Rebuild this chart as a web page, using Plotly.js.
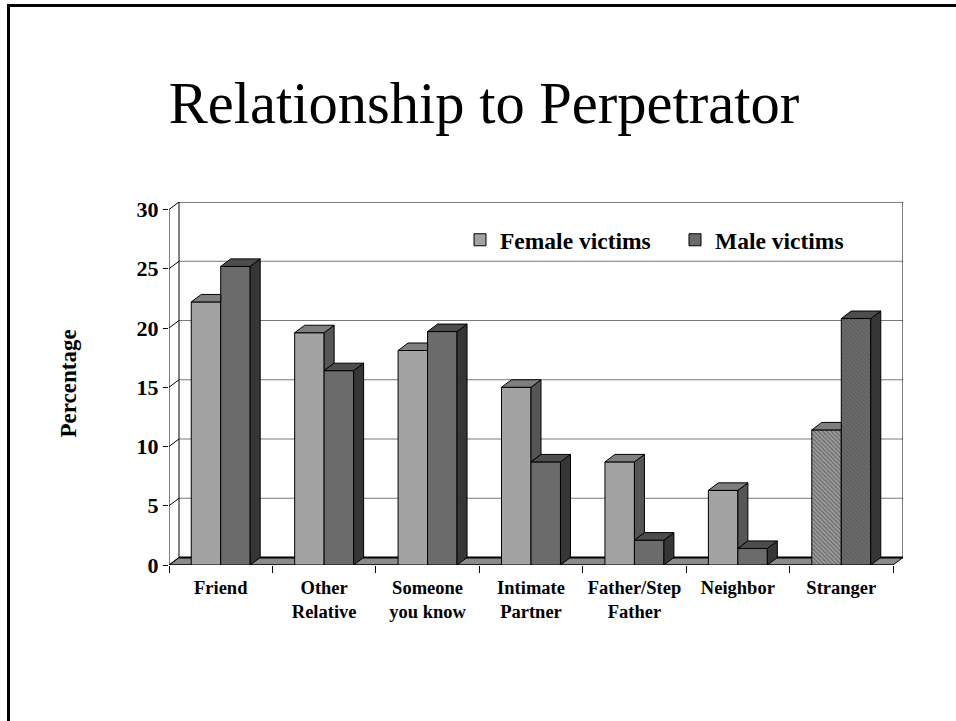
<!DOCTYPE html>
<html>
<head>
<meta charset="utf-8">
<script src="https://cdn.plot.ly/plotly-3.0.1.min.js"></script>
<style>
  html, body { margin: 0; padding: 0; background: #fff; }
  #wrap { position: relative; width: 956px; height: 721px; overflow: hidden; }
  #chart { width: 956px; height: 721px; }
  #frame { position: absolute; left: 7px; top: 4px; width: 960px; height: 730px;
           border-left: 3px solid #000; border-top: 3px solid #000; pointer-events: none; }
</style>
</head>
<body>
<div id="wrap"><div id="chart"></div><div id="frame"></div></div>
<script>
// ---- data ----
const categories = ['Friend', 'Other<br>Relative', 'Someone<br>you know', 'Intimate<br>Partner', 'Father/Step<br>Father', 'Neighbor', 'Stranger'];
const female = [22.2, 19.6, 18.1, 15.0, 8.7, 6.3, 11.4];
const male = [25.2, 16.4, 19.7, 8.7, 2.1, 1.4, 20.8];
const seriesNames = ['Female victims', 'Male victims'];
const yTicks = [0, 5, 10, 15, 20, 25, 30];

// ---- geometry / style constants ----
const W = 956, H = 721;
const margin = {l: 169, r: 53, t: 202, b: 156};
const plotW = W - margin.l - margin.r, plotH = H - margin.t - margin.b;
const n = categories.length;
const depthPx = 10, risePx = 7.5;
const dx = depthPx * n / plotW / (1 - depthPx / plotW);
const yTop = 30;
const dy = risePx * yTop / plotH / (1 - risePx / plotH);
const bw = 0.285;
const font = 'Liberation Serif, Times New Roman, serif';

const colF = {front: '#a3a3a3', top: '#7f7f7f', side: '#565656'};
const colM = {front: '#6b6b6b', top: '#4d4d4d', side: '#363636'};

const idx = categories.map((_, i) => i);
const patternShapes = categories.map((c, i) => (i === n - 1 ? '\\' : ''));

const traces = [];
traces.push({
  type: 'bar', name: seriesNames[0], x: idx, y: female, width: bw, offset: -bw,
  marker: {color: colF.front, line: {color: '#000', width: 1},
           pattern: {shape: patternShapes, fillmode: 'overlay', fgcolor: '#3f3f3f', size: 3, solidity: 0.55}},
  hoverinfo: 'y'
});
traces.push({
  type: 'bar', name: seriesNames[1], x: idx, y: male, width: bw, offset: 0,
  marker: {color: colM.front, line: {color: '#000', width: 1},
           pattern: {shape: patternShapes, fillmode: 'overlay', fgcolor: '#505050', size: 3, solidity: 0.4}},
  hoverinfo: 'y'
});

function face(xs, ys, fill) {
  traces.push({
    type: 'scatter', mode: 'lines', x: xs.concat([xs[0]]), y: ys.concat([ys[0]]),
    fill: 'toself', fillcolor: fill, line: {color: '#000', width: 1},
    showlegend: false, hoverinfo: 'skip'
  });
}

idx.forEach(i => {
  const f = female[i], m = male[i];
  const fL = i - bw, fR = i, mL = i, mR = i + bw;
  if (f > m) {
    face([fR, fR, fR + dx, fR + dx], [m, f, f + dy, m + dy], colF.side);
  }
  if (m > f) {
    face([fL, fR, fR, fL + dx], [f, f, f + dy, f + dy], colF.top);
  } else {
    face([fL, fR, fR + dx, fL + dx], [f, f, f + dy, f + dy], colF.top);
  }
  face([mR, mR, mR + dx, mR + dx], [0, m, m + dy, dy], colM.side);
  face([mL, mR, mR + dx, mL + dx], [m, m, m + dy, m + dy], colM.top);
});

// ---- walls, floor, gridlines ----
const x0 = -0.5, x1 = n - 0.5;
const shapes = [];
shapes.push({type: 'path', layer: 'below', xref: 'x', yref: 'y',
  path: `M${x0},0 L${x1},0 L${x1 + dx},${dy} L${x0 + dx},${dy} Z`,
  fillcolor: '#8a8a8a', line: {color: '#000', width: 1}});
yTicks.forEach(v => {
  if (v > 0 && v < yTop) {
    shapes.push({type: 'line', layer: 'below', xref: 'x', yref: 'y',
      x0: x0 + dx, x1: x1 + dx, y0: v + dy, y1: v + dy, line: {color: '#7a7a7a', width: 1}});
  }
  shapes.push({type: 'line', layer: 'below', xref: 'x', yref: 'y',
    x0: x0, x1: x0 + dx, y0: v, y1: v + dy, line: {color: '#000', width: 1}});
});
shapes.push({type: 'line', layer: 'below', xref: 'x', yref: 'y',
  x0: x0 + dx, x1: x1 + dx, y0: dy, y1: dy, line: {color: '#000', width: 2}});
shapes.push({type: 'rect', layer: 'below', xref: 'x', yref: 'y',
  x0: x0 + dx, x1: x1 + dx, y0: dy, y1: yTop + dy, line: {color: '#000', width: 1}});
shapes.push({type: 'line', layer: 'above', xref: 'x', yref: 'y',
  x0: x0, x1: x0, y0: 0, y1: yTop, line: {color: '#000', width: 1}});
shapes.push({type: 'line', layer: 'below', xref: 'x', yref: 'y',
  x0: x0, x1: x1, y0: 0, y1: 0, line: {color: '#000', width: 1}});

const boundaries = [];
for (let i = 0; i <= n; i++) boundaries.push(i - 0.5);

const layout = {
  width: W, height: H, margin: margin,
  paper_bgcolor: '#fff', plot_bgcolor: 'rgba(0,0,0,0)',
  barmode: 'overlay',
  title: {text: 'Relationship to Perpetrator', font: {family: font, size: 58.5, color: '#000'},
          x: 484 / W, xanchor: 'center', y: 1 - 103 / H, yanchor: 'middle', xref: 'container', yref: 'container'},
  xaxis: {range: [x0, x1 + dx], tickmode: 'array', tickvals: idx, ticktext: categories,
          ticks: '', showgrid: false, zeroline: false, showline: false, fixedrange: true,
          ticklabelstandoff: 9,
          tickfont: {family: font, size: 18.5, color: '#000', weight: 'bold'},
          minor: {tickmode: 'array', tickvals: boundaries, ticks: 'outside', ticklen: 7, tickcolor: '#000', tickwidth: 1, showgrid: false}},
  yaxis: {range: [0, yTop + dy], tickmode: 'array', tickvals: yTicks,
          ticks: 'outside', ticklen: 5, tickcolor: '#000', showgrid: false, zeroline: false, showline: false, fixedrange: true,
          tickfont: {family: font, size: 22, color: '#000', weight: 'bold'}},
  showlegend: true,
  legend: {orientation: 'h', x: (460 - margin.l) / plotW, xanchor: 'left', y: 1 - (240 - margin.t) / plotH, yanchor: 'middle',
           font: {family: font, size: 23.5, color: '#000', weight: 'bold'}, bgcolor: 'rgba(0,0,0,0)',
           entrywidth: 170, traceorder: 'normal'},
  annotations: [{text: 'Percentage', textangle: -90, xref: 'paper', yref: 'paper',
                 x: (68 - margin.l) / plotW, y: (564.5 - 383) / plotH, xanchor: 'center', yanchor: 'middle', showarrow: false,
                 font: {family: font, size: 23, color: '#000', weight: 'bold'}}],
  shapes: shapes
};

Plotly.newPlot('chart', traces, layout, {displayModeBar: false, staticPlot: true});
</script>
</body>
</html>
